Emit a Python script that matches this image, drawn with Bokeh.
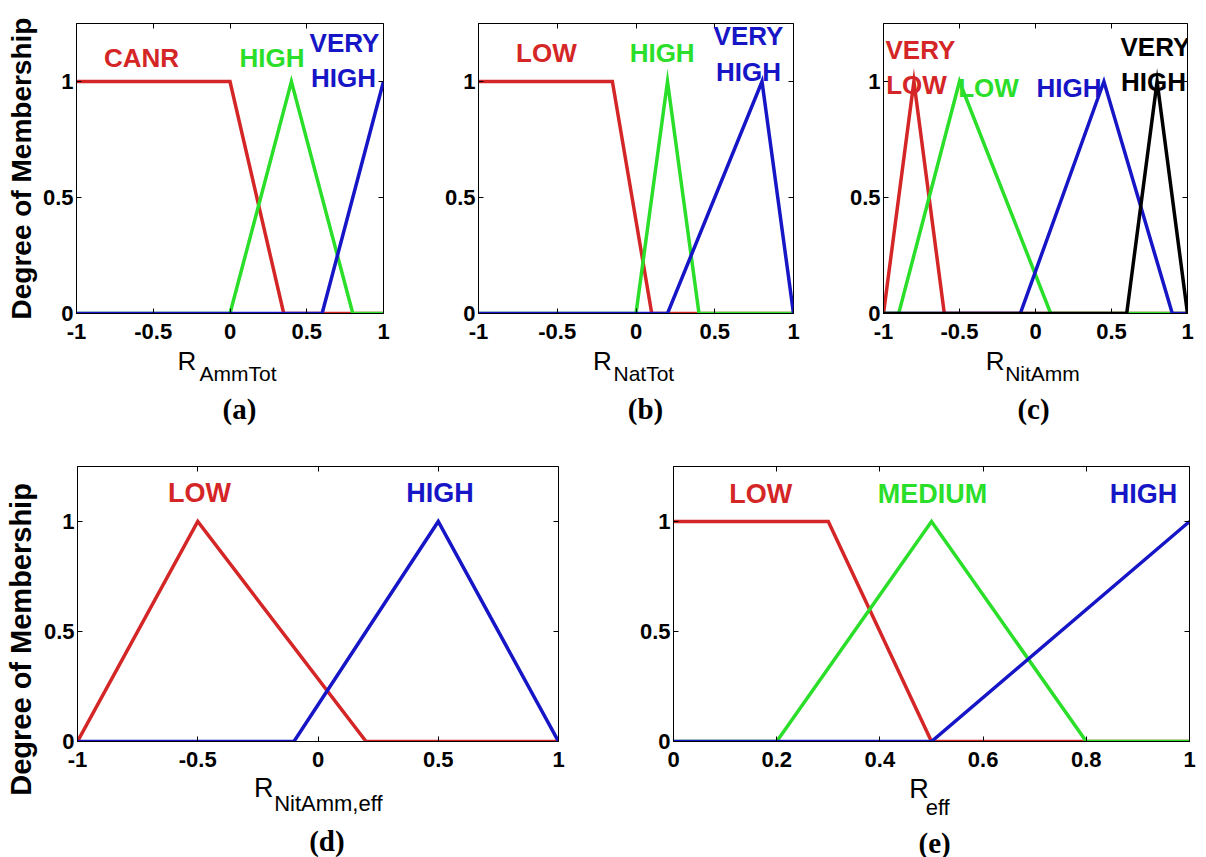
import math
from bokeh.plotting import figure
from bokeh.models import (Range1d, FixedTicker, LinearAxis, Label,
                          NumeralTickFormatter, CustomLabelingPolicy)
from bokeh.layouts import column, row
from bokeh.embed import file_html
from bokeh.resources import INLINE

RED = "#d42626"
GREEN = "#2ade2a"
BLUE = "#1616c6"
BLACK = "#000000"

# ---------------- data ----------------
# (a) R_AmmTot
A_CANR_X = [-1, 0, 0.35, 1]
A_CANR_Y = [1, 1, 0, 0]
A_HIGH_X = [-1, 0, 0.4, 0.8, 1]
A_HIGH_Y = [0, 0, 1, 0, 0]
A_VHIGH_X = [-1, 0.6, 1]
A_VHIGH_Y = [0, 0, 1]

# (b) R_NatTot
B_LOW_X = [-1, -0.15, 0.1, 1]
B_LOW_Y = [1, 1, 0, 0]
B_HIGH_X = [-1, 0, 0.2, 0.4, 1]
B_HIGH_Y = [0, 0, 1, 0, 0]
B_VHIGH_X = [-1, 0.2, 0.8, 1]
B_VHIGH_Y = [0, 0, 1, 0]

# (c) R_NitAmm
C_VLOW_X = [-1, -0.8, -0.6, 1]
C_VLOW_Y = [0, 1, 0, 0]
C_LOW_X = [-1, -0.9, -0.5, 0.1, 1]
C_LOW_Y = [0, 0, 1, 0, 0]
C_HIGH_X = [-1, -0.1, 0.45, 0.9, 1]
C_HIGH_Y = [0, 0, 1, 0, 0]
C_VHIGH_X = [-1, 0.6, 0.8, 1]
C_VHIGH_Y = [0, 0, 1, 0]

# (d) R_NitAmm,eff
D_LOW_X = [-1, -0.5, 0.2, 1]
D_LOW_Y = [0, 1, 0, 0]
D_HIGH_X = [-1, -0.1, 0.5, 1]
D_HIGH_Y = [0, 0, 1, 0]

# (e) R_eff
E_LOW_X = [0, 0.3, 0.5, 1]
E_LOW_Y = [1, 1, 0, 0]
E_MED_X = [0, 0.2, 0.5, 0.8, 1]
E_MED_Y = [0, 0, 1, 0, 0]
E_HIGH_X = [0, 0.5, 1]
E_HIGH_Y = [0, 0, 1]

X_TICKS_SYM = [-1, -0.5, 0, 0.5, 1]
X_TICKS_E = [0, 0.2, 0.4, 0.6, 0.8, 1]
Y_TICKS = [0, 0.5, 1]

Y_LABEL = "Degree of Membership"

FONT = "Liberation Sans"
SERIF = "Liberation Serif"


def make_fig(xr, xticks, fw, fh, bl, br, bt, bb):
    p = figure(width=bl + fw + br, height=bt + fh + bb,
               frame_width=fw, frame_height=fh,
               min_border_left=bl, min_border_right=br,
               min_border_top=bt, min_border_bottom=bb,
               x_range=Range1d(*xr), y_range=Range1d(0, 1.25),
               output_backend="svg", toolbar_location=None, tools="")
    p.grid.visible = False
    p.background_fill_color = "white"
    p.border_fill_color = "white"
    p.outline_line_color = "black"
    p.outline_line_width = 1
    xt = FixedTicker(ticks=xticks)
    yt = FixedTicker(ticks=Y_TICKS)
    xa = p.below[0]
    ya = p.left[0]
    for ax, tk in ((xa, xt), (ya, yt)):
        ax.ticker = tk
        ax.formatter = NumeralTickFormatter(format="0.[0]")
        ax.major_tick_in = 5
        ax.major_tick_out = 0
        ax.minor_tick_line_color = None
        ax.axis_line_color = "black"
        ax.major_tick_line_color = "black"
        ax.major_label_text_font = FONT
        ax.major_label_text_font_style = "bold"
        ax.major_label_text_font_size = "22px"
        ax.major_label_text_color = "black"
    xa.major_label_standoff = 10
    ya.major_label_standoff = 3
    for loc, tk in (("above", xt), ("right", yt)):
        ax2 = LinearAxis(ticker=tk)
        ax2.major_tick_in = 5
        ax2.major_tick_out = 0
        ax2.minor_tick_line_color = None
        ax2.axis_line_color = None
        ax2.major_label_text_font_size = "1px"
        ax2.major_label_standoff = 0
        ax2.major_label_policy = CustomLabelingPolicy(code="return []")
        p.add_layout(ax2, loc)
    return p


def text_axis(p, loc, pos, txt, size, font=FONT, style="normal",
              standoff=0, orientation="horizontal"):
    ax = LinearAxis(ticker=FixedTicker(ticks=[pos]),
                    major_label_overrides={pos: txt})
    ax.major_tick_line_color = None
    ax.minor_tick_line_color = None
    ax.axis_line_color = None
    ax.major_tick_in = 0
    ax.major_tick_out = 0
    ax.major_label_standoff = standoff
    ax.major_label_text_font = font
    ax.major_label_text_font_size = size
    ax.major_label_text_font_style = style
    ax.major_label_text_color = "black"
    ax.major_label_orientation = orientation
    p.add_layout(ax, loc)


def add_line(p, xs, ys, color):
    p.line(xs, ys, line_color=color, line_width=3.5, line_join="miter")


def add_text(p, x, y, txt, color, size="26px"):
    p.add_layout(Label(x=x, y=y, text=txt, text_color=color, text_font=FONT,
                       text_font_style="bold", text_font_size=size,
                       text_align="center", text_baseline="middle"))


def add_below(p, r_x, sub_x, sub, rsize, ssize, r_so, s_so, cap_x, cap, c_so):
    text_axis(p, "below", r_x, "R", rsize, standoff=r_so)
    text_axis(p, "below", sub_x, sub, ssize, standoff=s_so)
    text_axis(p, "below", cap_x, cap, "29px", font=SERIF, style="bold",
              standoff=c_so)


# ---------------- row 1 ----------------
pa = make_fig((-1, 1), X_TICKS_SYM, 307, 290, 76, 10, 23, 120)
add_line(pa, A_CANR_X, A_CANR_Y, RED)
add_line(pa, A_HIGH_X, A_HIGH_Y, GREEN)
add_line(pa, A_VHIGH_X, A_VHIGH_Y, BLUE)
add_text(pa, -0.577, 1.103, "CANR", RED)
add_text(pa, 0.274, 1.103, "HIGH", GREEN)
add_text(pa, 0.746, 1.168, "VERY", BLUE)
add_text(pa, 0.739, 1.015, "HIGH", BLUE)
add_below(pa, -0.281, 0.052, "AmmTot", "26px", "21px", 4, -17, 0.062, "(a)", 5)
text_axis(pa, "left", 0.625, Y_LABEL, "28px", style="bold", standoff=3,
          orientation="parallel")

pb = make_fig((-1, 1), X_TICKS_SYM, 315, 290, 85, 10, 23, 120)
add_line(pb, B_LOW_X, B_LOW_Y, RED)
add_line(pb, B_HIGH_X, B_HIGH_Y, GREEN)
add_line(pb, B_VHIGH_X, B_VHIGH_Y, BLUE)
add_text(pb, -0.569, 1.121, "LOW", RED)
add_text(pb, 0.166, 1.121, "HIGH", GREEN)
add_text(pb, 0.714, 1.194, "VERY", BLUE)
add_text(pb, 0.714, 1.039, "HIGH", BLUE)
add_below(pb, -0.214, 0.05, "NatTot", "26px", "21px", 4, -17, 0.06, "(b)", 5)

pc = make_fig((-1, 1), X_TICKS_SYM, 304, 290, 80, 11, 23, 120)
add_line(pc, C_VLOW_X, C_VLOW_Y, RED)
add_line(pc, C_LOW_X, C_LOW_Y, GREEN)
add_line(pc, C_HIGH_X, C_HIGH_Y, BLUE)
add_line(pc, C_VHIGH_X, C_VHIGH_Y, BLACK)
add_text(pc, -0.757, 1.134, "VERY", RED)
add_text(pc, -0.783, 0.983, "LOW", RED)
add_text(pc, -0.309, 0.970, "LOW", GREEN)
add_text(pc, 0.22, 0.970, "HIGH", BLUE)
add_text(pc, 0.789, 1.149, "VERY", BLACK)
add_text(pc, 0.776, 0.996, "HIGH", BLACK)
add_below(pc, -0.266, 0.046, "NitAmm", "26px", "21px", 4, -17, -0.013, "(c)", 5)

# ---------------- row 2 ----------------
pd_ = make_fig((-1, 1), X_TICKS_SYM, 481, 275, 77, 10, 33, 116)
add_line(pd_, D_LOW_X, D_LOW_Y, RED)
add_line(pd_, D_HIGH_X, D_HIGH_Y, BLUE)
add_text(pd_, -0.493, 1.131, "LOW", RED, "27px")
add_text(pd_, 0.507, 1.131, "HIGH", BLUE, "27px")
add_below(pd_, -0.226, 0.043, "NitAmm,eff", "27px", "22px", 3, -15, 0.037, "(d)", 6)
text_axis(pd_, "left", 0.464, Y_LABEL, "29px", style="bold", standoff=3,
          orientation="parallel")

pe = make_fig((0, 1), X_TICKS_E, 516, 275, 105, 9, 33, 116)
add_line(pe, E_LOW_X, E_LOW_Y, RED)
add_line(pe, E_MED_X, E_MED_Y, GREEN)
add_line(pe, E_HIGH_X, E_HIGH_Y, BLUE)
add_text(pe, 0.169, 1.127, "LOW", RED, "27px")
add_text(pe, 0.502, 1.127, "MEDIUM", GREEN, "27px")
add_text(pe, 0.911, 1.127, "HIGH", BLUE, "27px")
add_below(pe, 0.476, 0.512, "eff", "27px", "22px", 4, -12, 0.506, "(e)", 4)

layout = column(row(pa, pb, pc), row(pd_, pe))

open("out.html", "w").write(file_html(layout, INLINE))
